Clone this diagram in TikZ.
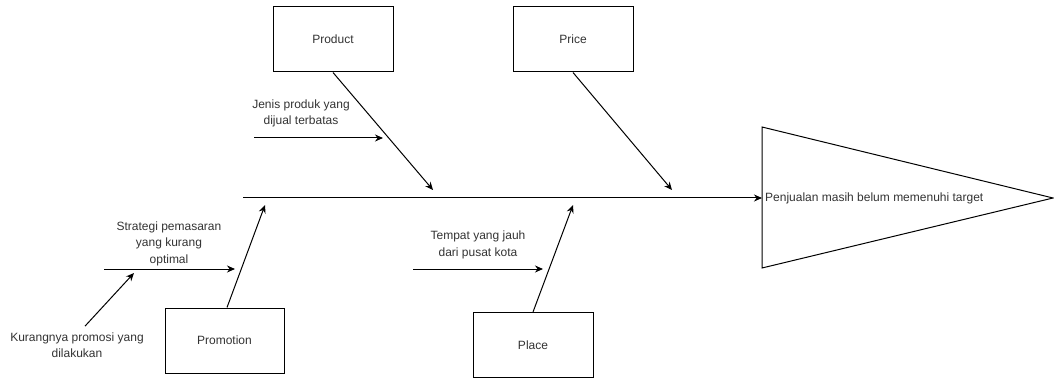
\documentclass[tikz,border=0pt]{standalone}
\usepackage{fontspec}
\setmainfont{Liberation Sans}
\usetikzlibrary{arrows.meta,calc,positioning}
\tikzset{
  font=\fontsize{12}{16.5}\selectfont,
  arrow/.style={-{Stealth[length=8pt,width=7pt]}, draw=black, line width=1pt},
  bone/.style={draw=black, line width=1pt},
  causeBox/.style={rectangle, draw=black, line width=1pt, fill=white, minimum width=120pt, minimum height=65pt, align=center, text=black!80},
  causeLabel/.style={align=center, text=black!80, inner sep=0pt},
  effectLabel/.style={anchor=west, text=black!80, inner sep=0pt}
}

\begin{document}
\begin{tikzpicture}[x=1pt,y=-1pt]
\useasboundingbox (0,0) rectangle (1054,379);

% --------------------------------------------------------------------------
% Head and spine
% --------------------------------------------------------------------------
\draw[bone] (762,127) -- (1053,198) -- (762,268) -- cycle;
\coordinate (headWest) at (762,198);
\coordinate (spineTail) at (243,198);
\node[effectLabel] (effect) at (765,198) {Penjualan masih belum memenuhi target};
\draw[arrow] (spineTail) -- (headWest);

% --------------------------------------------------------------------------
% Upper causes
% --------------------------------------------------------------------------
\node[causeBox] (product) at (333,39.5) {Product};
\node[causeBox] (price) at (573,39.5) {Price};
\coordinate (productTip) at (433,190);
\coordinate (priceTip) at (672,190);
\draw[arrow] (product.south) -- (productTip);
\draw[arrow] (price.south) -- (priceTip);

\node[causeLabel] (jenis) at (301,113.5) {Jenis produk yang\\dijual terbatas};
\coordinate (jenisTail) at (254,138);
\coordinate (jenisTip) at (383,138);
\draw[arrow] (jenisTail) -- (jenisTip);

% --------------------------------------------------------------------------
% Lower causes
% --------------------------------------------------------------------------
\node[causeBox, minimum width=119pt] (promotion) at (224.5,340.5) {Promotion};
\node[causeBox] (place) at (533,345) {Place};
\coordinate (promotionTip) at (265,205);
\coordinate (placeTip) at (573,205);
\draw[arrow] ([xshift=2.5pt]promotion.north) -- (promotionTip);
\draw[arrow] (place.north) -- (placeTip);

\node[causeLabel] (strategi) at (169,243.5) {Strategi pemasaran\\yang kurang\\optimal};
\coordinate (strategiTail) at (104,269);
\coordinate (strategiTip) at (235,269);
\draw[arrow] (strategiTail) -- (strategiTip);

\node[causeLabel] (kurang) at (77,345) {Kurangnya promosi yang\\dilakukan};
\coordinate (kurangTip) at (134,273);
\draw[arrow] ([xshift=8pt,yshift=6pt]kurang.north) -- (kurangTip);

\node[causeLabel] (tempat) at (478,245) {Tempat yang jauh\\dari pusat kota};
\coordinate (tempatTail) at (413,269);
\coordinate (tempatTip) at (543,269);
\draw[arrow] (tempatTail) -- (tempatTip);

\end{tikzpicture}
\end{document}
